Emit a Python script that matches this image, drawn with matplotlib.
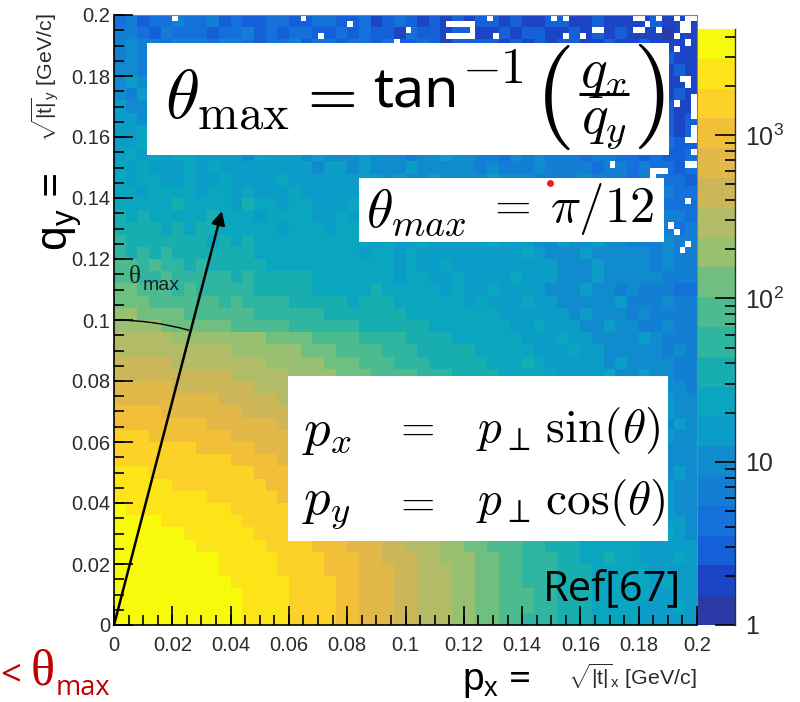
import numpy as np
import matplotlib
matplotlib.use('Agg')
import matplotlib.pyplot as plt
from matplotlib.colors import ListedColormap, LogNorm
from matplotlib.patches import Arc, Rectangle
from matplotlib.ticker import FixedLocator, FuncFormatter, NullLocator

plt.rcParams['font.family'] = ['Liberation Sans', 'DejaVu Sans']
plt.rcParams['mathtext.fontset'] = 'custom'
plt.rcParams['mathtext.rm'] = 'Liberation Sans'
plt.rcParams['mathtext.it'] = 'Liberation Sans:italic'
plt.rcParams['mathtext.bf'] = 'Liberation Sans:bold'

# palette bands of the z axis, bottom to top
band_colors = ['#2a3aa6', '#1b45c4', '#1460d8', '#1470da', '#127ed4', '#108cce',
               '#0b9cc8', '#0aa6c0', '#18aeb0', '#2fb5a0', '#4cbb90', '#6fbf80',
               '#98c070', '#b2bc66', '#cdb658', '#e2b848', '#f2c038', '#fdd228',
               '#fce418', '#f8fa0c']

z_min = 1.0
z_max = 4460.0
bin_width = 0.002

# colour band read per 0.004 GeV cell (base 20 digit), top row first
band_rows = [
    "3423343342 3223322332 2312321212 1221211221 1211112111",
    "4432433323 3423233223 2322132212 2112122112 1212111011",
    "4544344434 4323342332 3323223212 2221212122 1121121111",
    "4544454344 3454344323 3243323322 3212322121 2112121211",
    "5545444544 4544354443 4432333432 3323232122 2121221121",
    "5655455544 5444345434 4343343233 2323322312 2112122111",
    "5465565455 5454454344 4345443423 3332323223 2212122121",
    "6555655565 5465455544 4454344354 3433323332 3222112211",
    "6656556655 6545565455 5445444434 4344323323 3221322212",
    "6676656665 5565555655 4554454445 4344344323 3323321212",
    "6676566766 5665656555 5545655544 4454344343 3433232322",
    "6767677666 6576665655 5655545565 5443545444 3443323223",
    "7676667676 6666666566 5655565555 5454445444 4344343323",
    "7677667667 6666766666 6665655655 5565554444 5444344332",
    "7767777677 6766676666 6676665565 5656555554 4454344433",
    "7777787777 6877677666 7666766665 6556565454 4453444333",
    "8787777787 7767777667 6676676766 5655655565 4544454443",
    "8888787887 7777677767 7667667666 6766565655 5544544434",
    "9888888878 7877777777 7767667666 6676665565 5655444544",
    "9898988888 8877777777 7677676666 6666676555 6555554544",
    "aa9a998988 8887777777 7777676676 6666666655 5655554544",
    "aa99a99999 8988888777 7777677667 6666766655 5655555444",
    "bbaaa9a999 9988888777 7787777767 6676666555 6554544433",
    "bbbaaaaaa9 a999988888 7888777777 6766676655 5556444544",
    "ccbbbbaaaa aa99999988 8888877777 7776666665 6555454444",
    "ccccbbbbbb aaaaa99999 9888888777 7777667666 5565544544",
    "dddddccccc cccbbbbaaa a999988887 7777766676 6555565444",
    "dddddddddd ccccccbbba aaa9998888 8777776667 6655555454",
    "eeeeeddddd dddcccccbb baaa999888 8877787666 6656555544",
    "eeeeeeeeee dddddccccb bbaaaa9998 8887777766 6675565544",
    "fffffeeeee eedddddccc cbbaaaa999 8888777776 6666565554",
    "fffffffffe eeeeddddcc ccbbbaaa99 9888877776 6766555655",
    "ggggffffff feeeeedddd cccbbaaaa9 9988877777 6666655655",
    "ggggggggff ffffeeeedd dcccbbaaa9 9988887777 7666665565",
    "hhhggggggg fffffeeeed ddcccbbaaa 9998887777 7666665655",
    "hhhhhhhggg ggffffeeee dddcccbbaa a999888777 7766666555",
    "hhhhhhhhhh ggggffffee edddcccbba aa99888877 7766766555",
    "iiihhhhhhh hhgggffffe eedddcccbb aa99988877 7776666565",
    "iiiiihhhhh hhhgggffff eeeddcccbb aaa9988877 7876667655",
    "iiiiiiiihh hhhhgggfff eeedddcccb baa9998887 7777666655",
    "jiiiiiiiii hhhhhgggff feeedddccc baaa998887 7777676655",
    "jjjjiiiiii ihhhhhgggf ffeeeddccc bbaa998887 7877666665",
    "jjjjjjiiii iihhhhhggg fffeedddcc bbaa999888 7777666765",
    "jjjjjjjiii iiihhhhggg fffeedddcc bbaaa99888 7777766666",
    "jjjjjjjjji iiiihhhhgg gffeeeddcc cbbaa99988 7787766676",
    "jjjjjjjjji iiiihhhhgg gfffeedddc cbbaa99988 8777776666",
    "jjjjjjjjjj iiiiihhhhg gfffeedddc cbbaa99988 8777776766",
    "jjjjjjjjjj jiiiihhhhg gfffeedddc cbbaaa9988 8777776666",
    "jjjjjjjjjj jiiiihhhhg gfffeedddc cbbaaa9988 8777766676",
    "jjjjjjjjjj jiiiihhhhg gfffeedddc cbbaa99988 8777766666",
]

# empty bins (white), in units of the 100 bin histogram
empty_ix = [10, 32, 40, 35, 48, 64, 75, 77, 89, 90, 93, 96, 97, 98, 97, 98, 98, 99, 57, 58,
            59, 60, 61, 61, 61, 57, 58, 59, 60, 50, 82, 83, 89, 90, 93, 96, 91, 65, 77, 80,
            96, 98, 97, 98, 98, 99, 99, 99, 99, 96, 99, 99, 99, 98, 99, 98, 99, 85, 92, 93,
            94, 92, 98, 95, 96, 98, 97]
empty_iy = [99, 99, 98, 96, 95, 99, 99, 99, 99, 99, 99, 99, 98, 98, 97, 97, 99, 99, 98, 98,
            98, 98, 98, 97, 96, 96, 96, 96, 96, 97, 97, 97, 97, 97, 97, 96, 98, 96, 96, 96,
            94, 95, 89, 89, 88, 86, 85, 84, 83, 85, 81, 80, 79, 79, 77, 75, 75, 75, 74, 74,
            74, 73, 69, 65, 64, 62, 61]

x_ticks = [0, 0.02, 0.04, 0.06, 0.08, 0.1, 0.12, 0.14, 0.16, 0.18, 0.2]
y_ticks = [0, 0.02, 0.04, 0.06, 0.08, 0.1, 0.12, 0.14, 0.16, 0.18, 0.2]
minor_step = 0.005
z_ticks = [1, 10, 100, 1000]
z_minor = [2, 3, 4, 5, 6, 7, 8, 9, 20, 30, 40, 50, 60, 70, 80, 90, 200, 300, 400, 500, 600,
           700, 800, 900, 2000, 3000, 4000]
z_labels = ['1', '10', r'$\mathrm{10^{2}}$', r'$\mathrm{10^{3}}$']

# direction of the arrow and the arc drawn on it
arrow_tip = (0.037, 0.1357)
arc_radius = 0.1
arc_start_deg = 75.1

W, H = 800, 702
TEXT = '#2b2b2b'


def band_table():
    rows = [r.replace(' ', '') for r in band_rows]
    cells = np.array([[int(c, 20) for c in r] for r in rows])
    return cells[::-1]


def axes_box(left, top, right, bottom):
    return [left / W, 1 - bottom / H, (right - left) / W, (bottom - top) / H]


def main():
    fig = plt.figure(figsize=(W / 100, H / 100), dpi=100)
    ax = fig.add_axes(axes_box(114, 15, 697, 625))

    # 0.004 cells repeated onto the histogram's 0.002 bins
    bands = np.repeat(np.repeat(band_table(), 2, axis=0), 2, axis=1)
    decades = np.log10(z_max / z_min)
    counts = z_min * 10 ** ((bands + 0.5) * decades / len(band_colors))
    counts = np.ma.array(counts, mask=np.zeros(counts.shape, dtype=bool))
    counts[empty_iy, empty_ix] = np.ma.masked

    edges = np.arange(counts.shape[0] + 1) * bin_width
    cmap = ListedColormap(band_colors)
    cmap.set_bad('white')
    mesh = ax.pcolormesh(edges, edges, counts, cmap=cmap, norm=LogNorm(z_min, z_max), linewidth=0)

    ax.set_xlim(0, 0.2)
    ax.set_ylim(0, 0.2)
    ax.xaxis.set_major_locator(FixedLocator(x_ticks))
    ax.yaxis.set_major_locator(FixedLocator(y_ticks))
    fmt = FuncFormatter(lambda v, p: f'{v:g}')
    ax.xaxis.set_major_formatter(fmt)
    ax.yaxis.set_major_formatter(fmt)
    ax.tick_params(which='major', length=0, labelsize=14.5, labelcolor=TEXT)
    ax.tick_params(axis='x', which='major', pad=8)
    ax.tick_params(axis='y', which='major', pad=2.5)
    for side in ['top', 'right']:
        ax.spines[side].set_color('#808080')
        ax.spines[side].set_linewidth(0.8)
    for side in ['left', 'bottom']:
        ax.spines[side].set_linewidth(1.2)

    ax.annotate('', xy=arrow_tip, xytext=(0, 0),
                arrowprops=dict(arrowstyle='-|>', color='black', lw=1.8, mutation_scale=20,
                                shrinkA=0, shrinkB=0))
    ax.add_patch(Arc((0, 0), 2 * arc_radius, 2 * arc_radius, theta1=arc_start_deg, theta2=90,
                     color='black', lw=1.0))

    cax = fig.add_axes(axes_box(698, 29, 735, 625))
    cbar = fig.colorbar(mesh, cax=cax)
    cbar.set_ticks(z_ticks)
    cbar.set_ticklabels(z_labels)
    cax.yaxis.set_minor_locator(NullLocator())
    cax.tick_params(which='major', length=0, labelsize=18, labelcolor=TEXT, pad=7)
    cax.set_ylim(z_min, z_max)
    cbar.outline.set_visible(False)
    cax.spines['right'].set_visible(True)
    cax.spines['right'].set_linewidth(1.0)
    cax.spines['right'].set_color('#303030')

    # pasted annotations, placed in image pixels
    over = fig.add_axes([0, 0, 1, 1], zorder=5)
    over.set_xlim(0, W)
    over.set_ylim(H, 0)
    over.axis('off')

    for x0, y0, x1, y1 in [(147, 43, 669, 155), (359, 178, 664, 242), (288, 376, 668, 541)]:
        over.add_patch(Rectangle((x0, y0), x1 - x0, y1 - y0, color='white', lw=0))
    over.plot([550], [183], 'o', color='#ee1c25', ms=5, mew=0)

    # ROOT style inward ticks, on the top layer and mapped through each axis
    tick_style = dict(color='black', lw=1.2, zorder=6)
    minor_v = np.arange(0, 0.2 + minor_step / 2, minor_step)

    def x_px(values):
        return ax.transData.transform(np.column_stack([values, np.zeros(len(values))]))[:, 0]

    def y_px(axis, values):
        pts = axis.transData.transform(np.column_stack([np.zeros(len(values)), values]))
        return H - pts[:, 1]

    over.vlines(x_px(x_ticks), 625 - 19, 625, **tick_style)
    over.vlines(x_px(minor_v), 625 - 10, 625, **tick_style)
    over.hlines(y_px(ax, y_ticks), 114, 114 + 19, **tick_style)
    over.hlines(y_px(ax, minor_v), 114, 114 + 10, **tick_style)
    over.hlines(y_px(cax, z_ticks), 735 - 20, 735, **tick_style)
    over.hlines(y_px(cax, z_minor), 735 - 10, 735, **tick_style)
    over.set_xlim(0, W)
    over.set_ylim(H, 0)

    def cm(x, y, s, size, **kw):
        kw.setdefault('ha', 'left')
        over.text(x, y, s, fontsize=size, math_fontfamily='cm', va='center', **kw)

    cm(165, 100, r'$\theta_{\mathrm{max}}$', 50)
    cm(296, 97, r'$=$', 46)
    over.text(373, 93, 'tan', fontsize=40, family='Noto Sans', va='center', color='black')
    cm(462, 70, r'$-1$', 36)
    cm(552, 97, r'$($', 75, ha='center')
    cm(648, 97, r'$)$', 75, ha='center')
    cm(604, 74, r'$q_x$', 40, ha='center')
    cm(604, 125, r'$q_y$', 40, ha='center')
    over.plot([579, 629], [94, 94], color='black', lw=2.2, solid_capstyle='butt')

    cm(366, 212, r'$\theta_{max}$', 39)
    cm(486, 207, r'$=$', 34)
    cm(550, 209, r'$\pi/12$', 36.5)

    cm(302, 432, r'$p_x$', 38)
    cm(393, 428, r'$=$', 32)
    cm(476, 430, r'$p_\perp\,\sin(\theta)$', 34)
    cm(302, 507, r'$p_y$', 38)
    cm(393, 503, r'$=$', 32)
    cm(476, 503, r'$p_\perp\,\cos(\theta)$', 34)

    over.text(543, 589, 'Ref[67]', fontsize=30, family='Open Sans', va='center', color='black')
    over.text(129, 277, '\u03b8', fontsize=18, family='Liberation Serif', va='center', color='#202020')
    over.text(143, 285, 'max', fontsize=14, va='center', color='#202020')

    # axis titles
    over.text(45, 78, r'$\mathrm{\sqrt{|t|}_{y}}$ [GeV/c]', fontsize=15.4, rotation=90, ha='center',
              va='center', color=TEXT)
    over.text(632, 676, r'$\mathrm{\sqrt{|t|}_{x}}$ [GeV/c]', fontsize=15.4, ha='center', va='center',
              color=TEXT)
    over.text(62, 212, r'$\mathrm{q_{y}}$ =', fontsize=32, rotation=90, ha='center', va='center',
              family='Open Sans')
    over.text(462, 681, r'$\mathrm{p_{x}}$ =', fontsize=28, ha='left', va='center', family='Open Sans')

    over.text(0, 676, '<', fontsize=26, family='Open Sans', va='center', color='#c00000')
    over.text(31, 672, '\u03b8', fontsize=36, family='Liberation Serif', va='center', color='#c00000')
    over.text(56, 688, 'max', fontsize=19.5, family='Open Sans', va='center', color='#c00000')

    fig.savefig('out.png', dpi=100)


if __name__ == '__main__':
    main()
